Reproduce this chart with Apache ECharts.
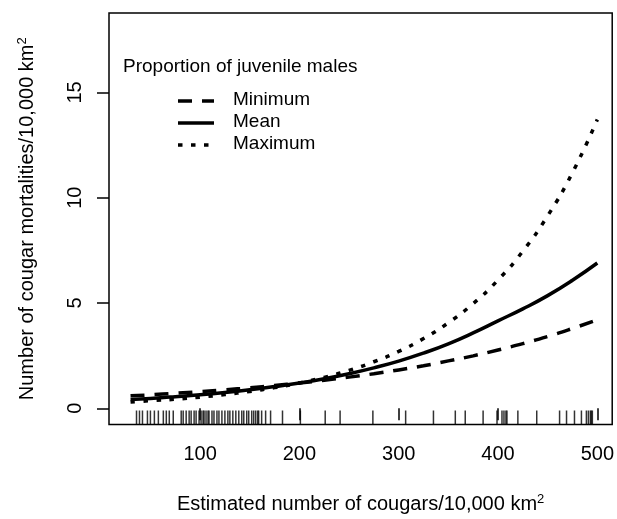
<!DOCTYPE html>
<html>
<head>
<meta charset="utf-8">
<script src="https://cdn.jsdelivr.net/npm/echarts@6/dist/echarts.min.js"></script>
<style>html,body{margin:0;padding:0;background:#fff}#c{width:617px;height:519px}</style>
</head>
<body>
<div id="c"></div>
<script>
// Estimated cougars / 10,000 km2
var xs = [30, 50, 75, 100, 125, 150, 175, 200, 225, 250, 275, 300, 325, 350, 375, 400, 425, 450, 475, 500];
var minVals  = [0.59, 0.64, 0.71, 0.79, 0.88, 0.97, 1.08, 1.20, 1.33, 1.48, 1.64, 1.82, 2.02, 2.25, 2.49, 2.77, 3.07, 3.41, 3.79, 4.20];
var meanVals = [0.42, 0.47, 0.55, 0.64, 0.75, 0.88, 1.03, 1.20, 1.40, 1.64, 1.92, 2.24, 2.62, 3.06, 3.58, 4.15, 4.72, 5.35, 6.08, 6.90];
var maxVals  = [0.30, 0.36, 0.43, 0.53, 0.65, 0.80, 0.98, 1.20, 1.47, 1.80, 2.21, 2.70, 3.31, 4.06, 4.97, 6.09, 7.46, 9.14, 11.19, 13.71];
// rug of observed densities
var rugVals = [36, 39, 42, 47, 50, 54, 58, 63, 66, 69, 73, 81, 83, 86, 89, 91, 94, 96, 99, 101, 103, 104, 106, 108, 109, 112, 114, 117, 119, 122, 125, 128, 130, 133, 136, 139, 142, 144, 147, 149, 152, 154, 156, 158, 159, 162, 166, 171, 183, 201, 226, 241, 274, 307, 335, 357, 367, 385, 399, 404, 406, 408, 409, 420, 439, 462, 469, 477, 484, 489, 491, 493, 494, 495];
var xTicks = [100, 200, 300, 400, 500];
var yTicks = [0, 5, 10, 15];
var seriesNames = ['Minimum', 'Mean', 'Maximum'];
var legendTitle = 'Proportion of juvenile males';

var X_MIN = 8.3, X_MAX = 515, Y_MIN = -0.77, Y_MAX = 18.77;
var FONT = 'Liberation Sans, Arial, sans-serif';
function pairs(v){ return xs.map(function(x,i){ return [x, v[i]]; }); }

var chart = echarts.init(document.getElementById('c'), null, {renderer:'canvas'});
var lineW = 3.5;
var dashes = [[14, 10], 'solid', [4.5, 8.5]];
var vals = [minVals, meanVals, maxVals];

var series = vals.map(function(v, i){
  return {
    name: seriesNames[i], type: 'line', data: pairs(v), smooth: true, showSymbol: false,
    lineStyle: {color: '#000', width: lineW, type: dashes[i]}, silent: true, z: 3
  };
});
series.push({
  type: 'scatter', data: rugVals.map(function(r){ return [r, Y_MIN]; }),
  symbol: 'rect', symbolSize: [1.5, 14], symbolOffset: [0, -7],
  itemStyle: {color: '#000'}, clip: false, silent: true, z: 2
});

var legendGraphics = [
  {type:'text', left: 123, top: 57, style:{text: legendTitle, font: '19px ' + FONT, fill:'#000'}}
];
var rowY = [101, 123, 145];
rowY.forEach(function(y, i){
  legendGraphics.push({type:'line', shape:{x1:178, y1:y, x2:214, y2:y},
    style:{stroke:'#000', lineWidth: lineW, lineDash: dashes[i] === 'solid' ? null : dashes[i]}});
  legendGraphics.push({type:'text', left: 233, top: y - 11,
    style:{text: seriesNames[i], font: '19px ' + FONT, fill:'#000'}});
});

chart.setOption({
  animation: false,
  backgroundColor: '#fff',
  grid: {left: 109, top: 13, right: 1, bottom: 90, show: true, borderColor: '#000', borderWidth: 1.5, containLabel: false},
  xAxis: {
    type: 'value', min: X_MIN, max: X_MAX,
    axisLine: {show: false},
    splitLine: {show: false},
    axisTick: {show: true, inside: false, length: 12, lineStyle: {color:'#000', width: 1.5}, customValues: xTicks},
    axisLabel: {color:'#000', fontSize: 20, fontFamily: FONT, margin: 20, customValues: xTicks},
    name: 'Estimated number of cougars/10,000 km{sup|2}',
    nameLocation: 'middle', nameGap: 68,
    nameTextStyle: {color:'#000', fontSize: 20, fontFamily: FONT,
      rich: {sup: {fontSize: 13, verticalAlign: 'top', padding: [0,0,10,0], color:'#000', fontFamily: FONT}}}
  },
  yAxis: {
    type: 'value', min: Y_MIN, max: Y_MAX,
    axisLine: {show: false},
    splitLine: {show: false},
    axisTick: {show: true, inside: false, length: 12, lineStyle: {color:'#000', width: 1.5}, customValues: yTicks},
    axisLabel: {color:'#000', fontSize: 20, fontFamily: FONT, margin: 24, rotate: 90, customValues: yTicks},
    name: 'Number of cougar mortalities/10,000 km{sup|2}',
    nameLocation: 'middle', nameGap: 70, nameRotate: 90,
    nameTextStyle: {color:'#000', fontSize: 20, fontFamily: FONT,
      rich: {sup: {fontSize: 13, verticalAlign: 'top', padding: [0,0,10,0], color:'#000', fontFamily: FONT}}}
  },
  graphic: legendGraphics,
  series: series
});
</script>
</body>
</html>
